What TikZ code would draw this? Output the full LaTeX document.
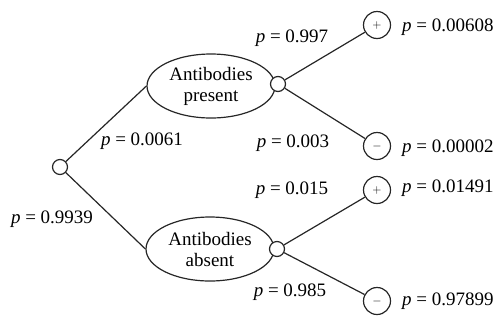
\documentclass[tikz,border=0pt]{standalone}
\usepackage{fontspec}
\setmainfont{Liberation Serif}
\usetikzlibrary{shapes.geometric}
\begin{document}
\begin{tikzpicture}[x=1pt,y=-1pt,
  every node/.style={font=\fontsize{19}{21}\selectfont},
  ln/.style={line width=1.2pt, black!85},
  dot/.style={circle, draw=black!85, line width=1.2pt, fill=white, minimum size=15pt, inner sep=0pt},
  leaf/.style={circle, draw=black!85, line width=1.2pt, fill=white, minimum size=27pt, inner sep=0pt, font=\fontsize{12}{12}\selectfont},
  ell/.style={ellipse, draw=black!85, line width=1.2pt, minimum width=128pt, minimum height=64pt, inner sep=0pt, align=center},
  lab/.style={inner sep=0pt}]
\useasboundingbox (0,0) rectangle (497,322);
\node[dot] (root) at (60,167) {};
\node[ell] (e1) at (211,86) {Antibodies\\present};
\node[ell] (e2) at (210,249) {Antibodies\\absent};
\node[dot] (c1) at (278,84) {};
\node[dot] (c2) at (277,249) {};
\node[leaf] (l1) at (377,25) {$+$};
\node[leaf] (l2) at (377,146) {$-$};
\node[leaf] (l3) at (377,190) {$+$};
\node[leaf] (l4) at (377,301) {$-$};
\draw[ln] (root) -- (e1.west);
\draw[ln] (root) -- (e2.west);
\draw[ln] (c1) -- (l1);
\draw[ln] (c1) -- (l2);
\draw[ln] (c2) -- (l3);
\draw[ln] (c2) -- (l4);
\node[lab] (p1) at (142,141) {\textit{p} = 0.0061};
\node[lab] (p2) at (52,219) {\textit{p} = 0.9939};
\node[lab] (p3) at (292,38) {\textit{p} = 0.997};
\node[lab] (p4) at (293,143) {\textit{p} = 0.003};
\node[lab] (p5) at (292,190) {\textit{p} = 0.015};
\node[lab] (p6) at (290,292) {\textit{p} = 0.985};
\node[lab, anchor=west] (q1) at (402,27) {\textit{p} = 0.00608};
\node[lab, anchor=west] (q2) at (402,148) {\textit{p} = 0.00002};
\node[lab, anchor=west] (q3) at (402,188) {\textit{p} = 0.01491};
\node[lab, anchor=west] (q4) at (402,301) {\textit{p} = 0.97899};
\end{tikzpicture}
\end{document}
